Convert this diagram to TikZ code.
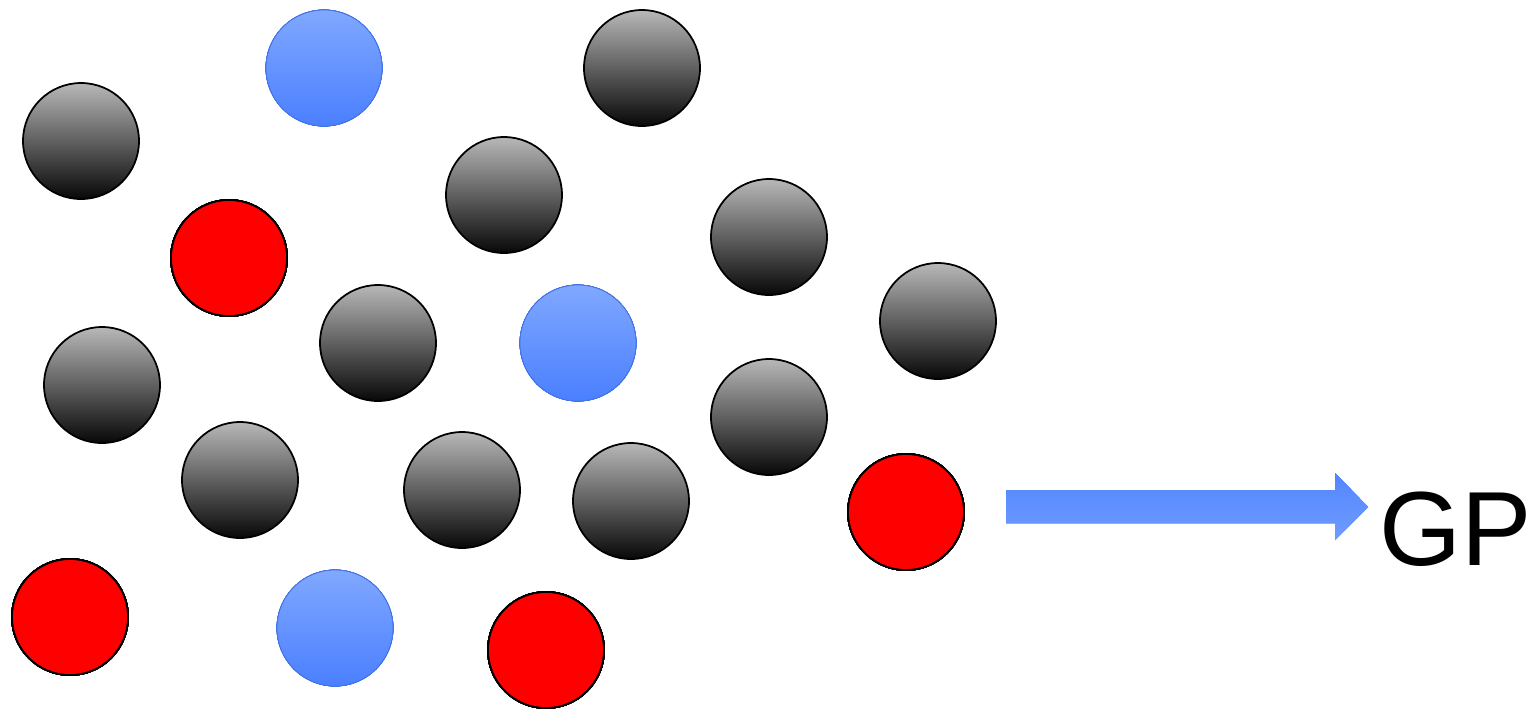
\documentclass[tikz,border=0pt]{standalone}
\usepackage{fontspec}
\setmainfont{Liberation Sans}
\definecolor{skytop}{RGB}{128,168,255}
\definecolor{skybot}{RGB}{74,127,255}
\definecolor{arrowtop}{RGB}{82,134,255}
\definecolor{arrowbot}{RGB}{112,156,255}
\newcommand{\ball}[4]{\node[ball,#4] (#1) at (#2,#3){};}

\begin{document}
\begin{tikzpicture}[x=.1mm,y=-.1mm,
  ball/.style={circle,minimum size=11.6mm,inner sep=0pt},
  dark/.style={draw=black,line width=.5pt,top color=black!28,bottom color=black!97},
  sky/.style={draw=skybot!90!black,line width=.2pt,top color=skytop,bottom color=skybot},
  hot/.style={draw=black,line width=.5pt,fill=red}]
\useasboundingbox (0,0) rectangle (1536,708);
% grey balls
\foreach \n/\x/\y in {1/81/141,2/642/68,3/504/195,4/769/237,5/938/321,6/378/343,7/102/385,8/769/417,9/240/480,10/462/490,11/631/501}
  \ball{k\n}{\x}{\y}{dark}
% blue and red balls
\ball{s1}{324}{68}{sky}\ball{s2}{578}{343}{sky}\ball{s3}{335}{628}{sky}
\ball{r1}{229}{258}{hot}\ball{r2}{70}{617}{hot}\ball{r3}{546}{650}{hot}\ball{r4}{906}{512}{hot}
% arrow to GP
\shade[top color=arrowtop,bottom color=arrowbot] (1006,490)--(1335,490)--(1335,473)--(1368,507)--(1335,540)--(1335,523)--(1006,523)--cycle;
\node[anchor=base west,inner sep=0pt,font=\fontsize{30}{36}\selectfont] (gp) at (1379,565){GP};
\end{tikzpicture}
\end{document}
